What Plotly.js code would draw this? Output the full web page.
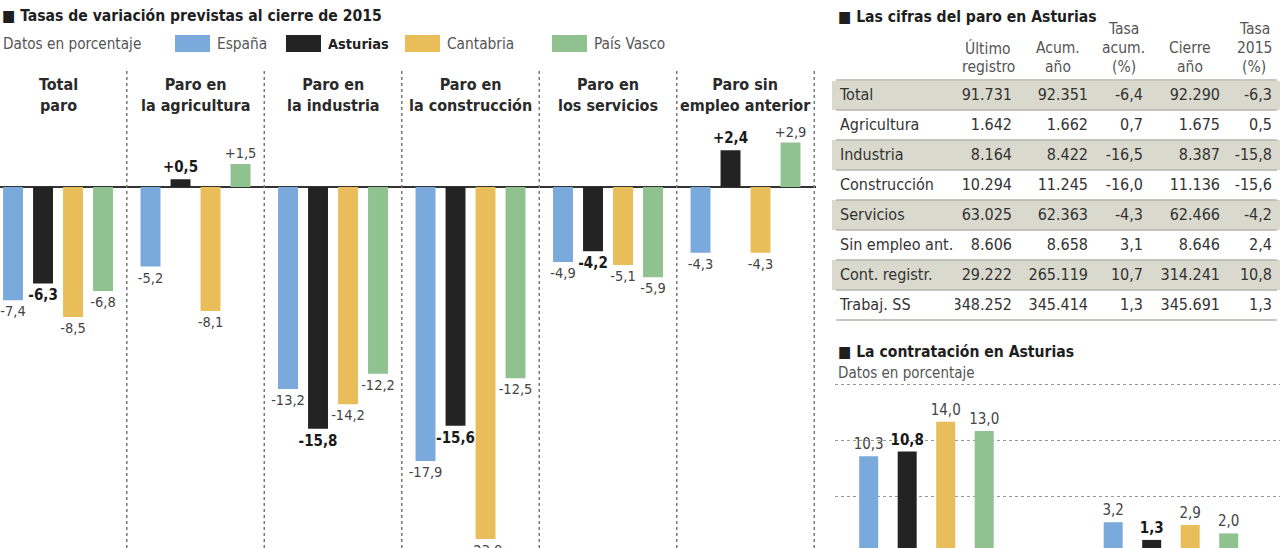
<!DOCTYPE html>
<html>
<head>
<meta charset="utf-8">
<script src="https://cdn.plot.ly/plotly-3.0.1.min.js"></script>
<style>html,body{margin:0;padding:0;background:#fff;}#chart{width:1280px;height:548px;}</style>
</head>
<body>
<div id="chart"></div>
<script>
// ---------- DATA ----------
const seriesNames = ["España", "Asturias", "Cantabria", "País Vasco"];
const categories = ["Total<br>paro", "Paro en<br>la agricultura", "Paro en<br>la industria",
  "Paro en<br>la construcción", "Paro en<br>los servicios", "Paro sin<br>empleo anterior"];
const espana    = [-7.4, -5.2, -13.2, -17.9, -4.9, -4.3];
const asturias  = [-6.3,  0.5, -15.8, -15.6, -4.2,  2.4];
const cantabria = [-8.5, -8.1, -14.2, -23.0, -5.1, -4.3];
const paisVasco = [-6.8,  1.5, -12.2, -12.5, -5.9,  2.9];

const contrCategories = ["Contratos registrados", "Trabajadores en la Seguridad Social"];
const contrEspana    = [10.3, 3.2];
const contrAsturias  = [10.8, 1.3];
const contrCantabria = [14.0, 2.9];
const contrPaisVasco = [13.0, 2.0];

const tableHeaders = ["", "Último<br>registro", "Acum.<br>año", "Tasa<br>acum.<br>(%)", "Cierre<br>año", "Tasa<br>2015<br>(%)"];
const rowLabels = ["Total", "Agricultura", "Industria", "Construcción", "Servicios", "Sin empleo ant.", "Cont. registr.", "Trabaj. SS"];
const ultimoRegistro = [91731, 1642, 8164, 10294, 63025, 8606, 29222, 348252];
const acumAno        = [92351, 1662, 8422, 11245, 62363, 8658, 265119, 345414];
const tasaAcum       = [-6.4, 0.7, -16.5, -16.0, -4.3, 3.1, 10.7, 1.3];
const cierreAno      = [92290, 1675, 8387, 11136, 62466, 8646, 314241, 345691];
const tasa2015       = [-6.3, 0.5, -15.8, -15.6, -4.2, 2.4, 10.8, 1.3];

// ---------- STYLE ----------
const W = 1280, H = 548;
const colors = ["#7aaadb", "#232323", "#e8bd5a", "#8fc28f"];
const FONT = "'DejaVu Sans Condensed', 'Roboto', sans-serif";
const px = x => x / W;
const py = y => 1 - y / H;
const fmt1 = (v, plus) => (plus && v > 0 ? "+" : "") + v.toFixed(1).replace(".", ",");
const fmtInt = n => String(n).replace(/\B(?=(\d{3})+(?!\d))/g, ".");
const nb = s => s.replace(/ /g, "\u00a0");

const mainSeries = [espana, asturias, cantabria, paisVasco];
const contrSeries = [contrEspana, contrAsturias, contrCantabria, contrPaisVasco];
const catIdx = categories.map((c, i) => i);
const contrIdx = contrCategories.map((c, i) => i);

const traces = [];
const w1 = 0.145, pitch1 = 0.2182;
mainSeries.forEach((vals, s) => {
  traces.push({
    type: "bar", x: catIdx, y: vals, name: seriesNames[s],
    xaxis: "x", yaxis: "y",
    width: w1, offset: (s - 1.5) * pitch1 - w1 / 2,
    marker: {color: colors[s]},
    text: vals.map(v => fmt1(v, true)), textposition: "outside",
    constraintext: "none", cliponaxis: false,
    textfont: {family: FONT, size: s === 1 ? 15 : 14.5, color: s === 1 ? "#1a1a1a" : "#444", weight: s === 1 ? "bold" : "normal"},
    hoverinfo: "skip", showlegend: false
  });
});
const w2 = 0.0777, pitch2 = 0.1575;
contrSeries.forEach((vals, s) => {
  traces.push({
    type: "bar", x: contrIdx, y: vals, name: seriesNames[s],
    xaxis: "x2", yaxis: "y2",
    width: w2, offset: (s - 1.5) * pitch2 - w2 / 2,
    marker: {color: colors[s]},
    text: vals.map(v => fmt1(v, false)), textposition: "outside",
    constraintext: "none", cliponaxis: false,
    textfont: {family: FONT, size: 15, color: s === 1 ? "#1a1a1a" : "#444", weight: s === 1 ? "bold" : "normal"},
    hoverinfo: "skip", showlegend: false
  });
});

// table
const TBL_L = 832, TBL_R = 1280, ROW0 = 80, ROWH = 30, HEADH = 20;
const colWidths = [124, 64, 76, 55, 77, 52];
const shade = "#d9d9cd";
const rowFill = rowLabels.map((r, i) => i % 2 === 0 ? shade : "#ffffff");
const colFill = colWidths.map(() => rowFill);
traces.push({
  type: "table",
  domain: {x: [px(TBL_L), px(TBL_R)], y: [py(ROW0 + ROWH * rowLabels.length + 6), py(ROW0 - HEADH)]},
  columnwidth: colWidths,
  header: {values: colWidths.map(() => ""), height: HEADH,
    font: {family: FONT, size: 10, color: "#ffffff"},
    fill: {color: "#ffffff"}, line: {color: "#ffffff", width: 1}},
  cells: {
    values: [rowLabels.map(nb), ultimoRegistro.map(fmtInt), acumAno.map(fmtInt), tasaAcum.map(v => fmt1(v, false)),
             cierreAno.map(fmtInt), tasa2015.map(v => fmt1(v, false))],
    align: ["left", "right", "right", "right", "right", "right"],
    height: ROWH,
    font: {family: FONT, size: 16, color: "#333"},
    fill: {color: colFill}, line: {color: colFill, width: 1}
  }
});

// ---------- SHAPES / ANNOTATIONS ----------
const shapes = [];
const annotations = [];
// table column headers (one annotation per line, bottom aligned)
let colStart = TBL_L;
tableHeaders.forEach((h, j) => {
  const cx = colStart + colWidths[j] / 2;
  colStart += colWidths[j];
  if (!h) return;
  const lines = h.split("<br>");
  lines.forEach((ln, k) => {
    annotations.push({xref: "paper", yref: "paper", x: px(cx), y: py(67 - 19 * (lines.length - 1 - k)),
      xanchor: "center", yanchor: "middle", text: ln, showarrow: false,
      font: {family: FONT, size: 15.5, color: "#555"}});
  });
});
// group separators
categories.forEach((c, i) => {
  shapes.push({type: "line", xref: "x", yref: "paper", x0: i + 0.5, x1: i + 0.5, y0: 0, y1: py(68),
    line: {color: "#777", width: 1.5, dash: "dot"}});
});
// group titles
categories.forEach((c, i) => {
  annotations.push({xref: "x", yref: "paper", x: i, y: py(95), text: c, showarrow: false,
    xanchor: "center", yanchor: "middle", align: "center",
    font: {family: FONT, size: 16, color: "#2a2a2a", weight: "bold"}});
});
// table row separators
[-1].concat(rowLabels.map((r, i) => i)).forEach(i => {
  const y = ROW0 + ROWH * (i + 1);
  shapes.push({type: "line", xref: "paper", yref: "paper", x0: px(TBL_L + 4), x1: px(TBL_R - 3), y0: py(y), y1: py(y),
    line: {color: "#b5b5ab", width: 1.5}});
});

// titles
const titleFont = {family: FONT, size: 15.6, color: "#1e1e1e", weight: "bold"};
annotations.push({xref: "paper", yref: "paper", x: px(0), y: py(16), xanchor: "left", yanchor: "middle",
  text: "■ Tasas de variación previstas al cierre de 2015", showarrow: false, font: titleFont});
annotations.push({xref: "paper", yref: "paper", x: px(836), y: py(17), xanchor: "left", yanchor: "middle",
  text: "■ Las cifras del paro en Asturias", showarrow: false, font: titleFont});
annotations.push({xref: "paper", yref: "paper", x: px(836), y: py(352), xanchor: "left", yanchor: "middle",
  text: "■ La contratación en Asturias", showarrow: false, font: titleFont});
annotations.push({xref: "paper", yref: "paper", x: px(836), y: py(373), xanchor: "left", yanchor: "middle",
  text: "Datos en porcentaje", showarrow: false, font: {family: FONT, size: 15, color: "#555"}});
annotations.push({xref: "paper", yref: "paper", x: px(1), y: py(44), xanchor: "left", yanchor: "middle",
  text: "Datos en porcentaje", showarrow: false, font: {family: FONT, size: 15.2, color: "#555"}});

// legend (manual)
const legendX = [175, 286, 405, 552];
seriesNames.forEach((n, s) => {
  shapes.push({type: "rect", xref: "paper", yref: "paper", x0: px(legendX[s]), x1: px(legendX[s] + 35),
    y0: py(52), y1: py(35), fillcolor: colors[s], line: {width: 0}});
  annotations.push({xref: "paper", yref: "paper", x: px(legendX[s] + 40), y: py(44), xanchor: "left", yanchor: "middle",
    text: n, showarrow: false,
    font: {family: FONT, size: s === 1 ? 14.5 : 15.3, color: s === 1 ? "#222" : "#555", weight: s === 1 ? "bold" : "normal"}});
});

const layout = {
  width: W, height: H,
  margin: {l: 0, r: 0, t: 0, b: 0},
  paper_bgcolor: "#ffffff", plot_bgcolor: "rgba(0,0,0,0)",
  barmode: "overlay",
  font: {family: FONT, color: "#333"},
  xaxis: {domain: [0, px(815.65)], range: [-0.422, 5.51], showticklabels: false, showgrid: false,
    zeroline: false, ticks: "", fixedrange: true},
  yaxis: {domain: [0, py(130)], range: [-23.59, 3.725], showticklabels: false, showgrid: false,
    zeroline: true, zerolinecolor: "#333", zerolinewidth: 2, ticks: "", fixedrange: true},
  xaxis2: {domain: [px(835), 1], range: [-0.374, 1.446], anchor: "y2", showticklabels: false,
    showgrid: false, zeroline: false, ticks: "", fixedrange: true},
  yaxis2: {domain: [0, py(380)], range: [0.43, 18.49], anchor: "x2", showticklabels: false,
    tickvals: [6, 12, 18], showgrid: true, gridcolor: "#999", griddash: "dot", gridwidth: 1,
    zeroline: false, ticks: "", fixedrange: true},
  shapes: shapes,
  annotations: annotations,
  showlegend: false
};

Plotly.newPlot("chart", traces, layout, {displayModeBar: false, staticPlot: true});
</script>
</body>
</html>
